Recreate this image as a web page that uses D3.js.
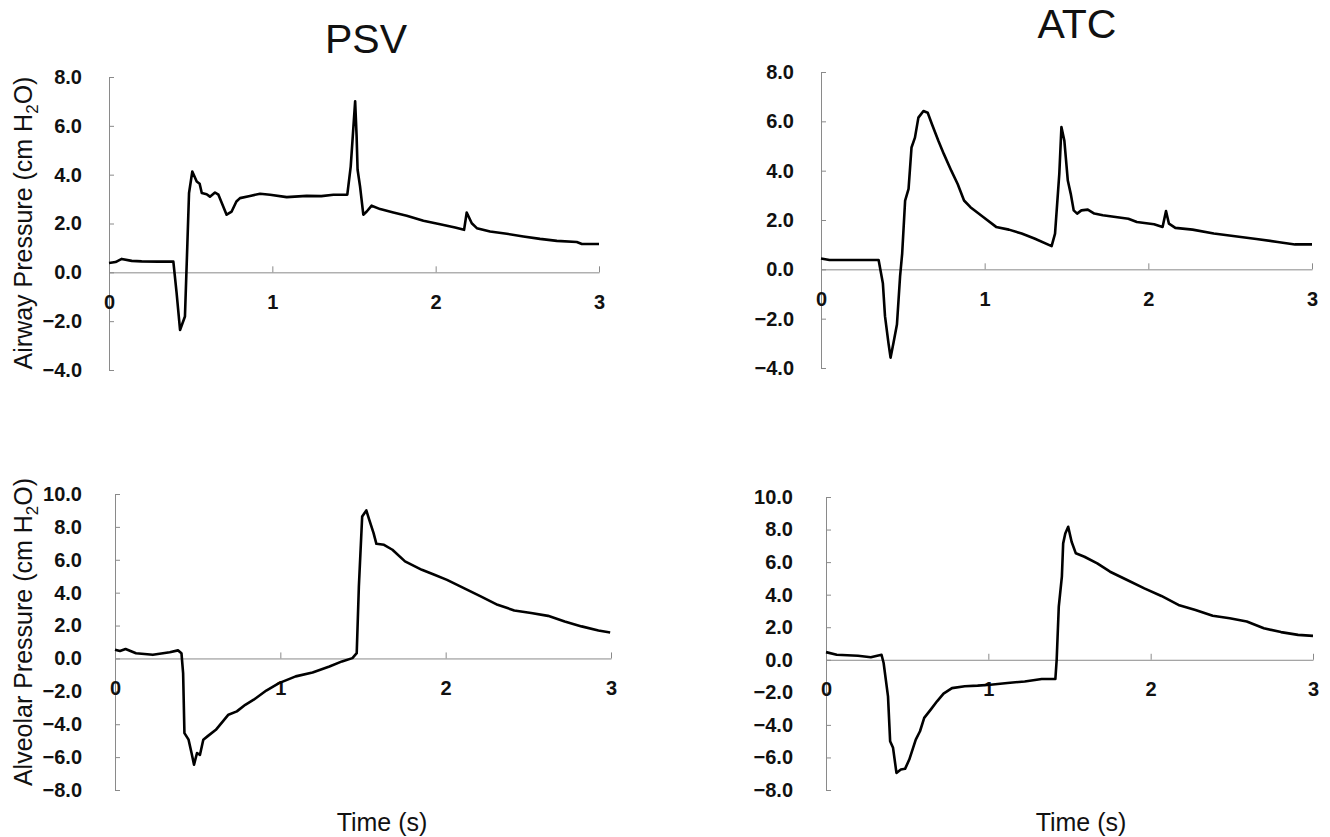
<!DOCTYPE html>
<html>
<head>
<meta charset="utf-8">
<script src="https://cdn.jsdelivr.net/npm/d3@7"></script>
<style>
  body { margin: 0; background: #fff; }
  svg { display: block; }
  .tick text { font-family: "Liberation Sans", Arial, sans-serif; font-weight: bold; font-size: 20px; fill: #111; }
  .axis path, .axis line { stroke: #8a8a8a; stroke-width: 1; }
  .title { font-family: "Liberation Sans", Arial, sans-serif; font-size: 41px; fill: #111; }
  .lab { font-family: "Liberation Sans", Arial, sans-serif; font-size: 25px; fill: #111; }
</style>
</head>
<body>
<div id="chart"></div>
<script>
// tick values
const timeTicks = [0, 1, 2, 3];
const airwayTicks = [-4, -2, 0, 2, 4, 6, 8];
const alveolarTicks = [-8, -6, -4, -2, 0, 2, 4, 6, 8, 10];

// PSV airway pressure (top left)
const psvAirwayT = [0, 0.04, 0.078, 0.139, 0.2, 0.3, 0.394, 0.414, 0.435, 0.465, 0.48, 0.49, 0.51, 0.537, 0.555, 0.568, 0.598, 0.618, 0.649, 0.67, 0.72, 0.751, 0.78, 0.802, 0.863, 0.925, 0.986, 1.088, 1.21, 1.3, 1.374, 1.459, 1.48, 1.507, 1.516, 1.522, 1.537, 1.557, 1.578, 1.608, 1.66, 1.741, 1.823, 1.925, 2.027, 2.119, 2.174, 2.19, 2.221, 2.252, 2.333, 2.435, 2.537, 2.639, 2.742, 2.864, 2.895, 3.0];
const psvAirwayP = [0.38, 0.42, 0.55, 0.47, 0.45, 0.44, 0.44, -0.85, -2.36, -1.81, 1.2, 3.25, 4.13, 3.72, 3.63, 3.25, 3.2, 3.1, 3.27, 3.18, 2.36, 2.49, 2.9, 3.04, 3.13, 3.22, 3.18, 3.08, 3.13, 3.12, 3.18, 3.18, 4.34, 7.0, 5.57, 4.2, 3.52, 2.36, 2.49, 2.73, 2.59, 2.45, 2.32, 2.11, 1.97, 1.84, 1.74, 2.45, 2.01, 1.81, 1.67, 1.58, 1.47, 1.37, 1.29, 1.24, 1.16, 1.16];

// ATC airway pressure (top right)
const atcAirwayT = [0, 0.052, 0.2, 0.352, 0.378, 0.391, 0.412, 0.425, 0.443, 0.464, 0.483, 0.496, 0.514, 0.535, 0.553, 0.574, 0.595, 0.626, 0.652, 0.678, 0.717, 0.751, 0.796, 0.835, 0.874, 0.913, 0.991, 1.07, 1.148, 1.226, 1.304, 1.409, 1.43, 1.456, 1.469, 1.487, 1.508, 1.526, 1.544, 1.565, 1.591, 1.63, 1.67, 1.722, 1.878, 1.93, 2.035, 2.087, 2.108, 2.126, 2.165, 2.27, 2.4, 2.53, 2.66, 2.79, 2.896, 3.0];
const atcAirwayP = [0.44, 0.38, 0.38, 0.38, -0.56, -1.9, -2.98, -3.58, -2.98, -2.24, -0.3, 0.64, 2.79, 3.26, 4.94, 5.34, 6.15, 6.42, 6.35, 5.88, 5.21, 4.67, 4.0, 3.46, 2.79, 2.52, 2.12, 1.72, 1.61, 1.45, 1.25, 0.94, 1.45, 3.87, 5.77, 5.21, 3.6, 3.06, 2.39, 2.26, 2.39, 2.42, 2.26, 2.19, 2.05, 1.92, 1.83, 1.72, 2.36, 1.85, 1.68, 1.61, 1.45, 1.34, 1.23, 1.11, 1.01, 1.01];

// PSV alveolar pressure (bottom left)
const psvAlvT = [0, 0.03, 0.064, 0.127, 0.229, 0.331, 0.381, 0.402, 0.412, 0.42, 0.445, 0.463, 0.478, 0.496, 0.514, 0.534, 0.559, 0.61, 0.686, 0.737, 0.788, 0.839, 0.915, 0.992, 1.093, 1.195, 1.297, 1.373, 1.436, 1.462, 1.475, 1.495, 1.52, 1.538, 1.564, 1.581, 1.627, 1.678, 1.754, 1.856, 1.932, 2.008, 2.11, 2.212, 2.314, 2.415, 2.517, 2.619, 2.72, 2.822, 2.924, 2.995];
const psvAlvP = [0.53, 0.45, 0.57, 0.32, 0.22, 0.38, 0.49, 0.32, -0.89, -4.54, -4.94, -5.75, -6.46, -5.75, -5.86, -4.94, -4.74, -4.34, -3.42, -3.22, -2.82, -2.51, -1.95, -1.5, -1.09, -0.85, -0.49, -0.18, 0.02, 0.32, 4.38, 8.63, 9.0, 8.43, 7.62, 6.97, 6.91, 6.61, 5.9, 5.39, 5.09, 4.78, 4.28, 3.77, 3.26, 2.92, 2.76, 2.59, 2.25, 1.95, 1.7, 1.58];

// ATC alveolar pressure (bottom right)
const atcAlvT = [0, 0.066, 0.197, 0.276, 0.342, 0.355, 0.382, 0.395, 0.413, 0.434, 0.461, 0.487, 0.513, 0.553, 0.579, 0.605, 0.645, 0.684, 0.724, 0.776, 0.855, 0.934, 1.013, 1.118, 1.224, 1.329, 1.413, 1.421, 1.434, 1.453, 1.461, 1.474, 1.492, 1.513, 1.539, 1.592, 1.671, 1.75, 1.855, 1.961, 2.066, 2.171, 2.276, 2.382, 2.487, 2.592, 2.697, 2.803, 2.908, 3.0];
const atcAlvP = [0.47, 0.31, 0.25, 0.16, 0.31, -0.2, -2.25, -5.0, -5.41, -6.95, -6.74, -6.7, -6.13, -4.9, -4.39, -3.57, -3.06, -2.55, -2.08, -1.74, -1.63, -1.59, -1.53, -1.43, -1.33, -1.18, -1.18, 0, 3.27, 5.11, 7.15, 7.76, 8.17, 7.25, 6.54, 6.33, 5.92, 5.41, 4.9, 4.39, 3.92, 3.37, 3.06, 2.7, 2.55, 2.35, 1.94, 1.7, 1.53, 1.47];

const W = 1330, H = 837;
const svg = d3.select("#chart").append("svg").attr("width", W).attr("height", H);

// panel layout in pixels
const panels = [
  {t: psvAirwayT, p: psvAirwayP, ticks: airwayTicks, left: 109, right: 599, top: 77, bottom: 370, pad: 27},
  {t: atcAirwayT, p: atcAirwayP, ticks: airwayTicks, left: 821, right: 1312, top: 72, bottom: 368, pad: 27},
  {t: psvAlvT, p: psvAlvP, ticks: alveolarTicks, left: 115, right: 611, top: 494, bottom: 790, pad: 33},
  {t: atcAlvT, p: atcAlvP, ticks: alveolarTicks, left: 826, right: 1313, top: 497, bottom: 790, pad: 33}
];

panels.forEach(pn => {
  const x = d3.scaleLinear().domain([0, 3]).range([pn.left, pn.right]);
  const y = d3.scaleLinear().domain(d3.extent(pn.ticks)).range([pn.bottom, pn.top]);

  svg.append("g").attr("class", "axis")
    .attr("transform", "translate(" + pn.left + ",0)")
    .call(d3.axisLeft(y).tickValues(pn.ticks).tickFormat(d3.format(".1f"))
      .tickSizeInner(-5).tickSizeOuter(0).tickPadding(pn.pad));

  svg.append("g").attr("class", "axis")
    .attr("transform", "translate(0," + y(0) + ")")
    .call(d3.axisBottom(x).tickValues(timeTicks).tickFormat(d3.format("d"))
      .tickSizeInner(-6).tickSizeOuter(0).tickPadding(22));

  const line = d3.line().x(d => x(d[0])).y(d => y(d[1]));
  svg.append("path")
    .datum(d3.zip(pn.t, pn.p))
    .attr("d", line)
    .attr("fill", "none")
    .attr("stroke", "#000")
    .attr("stroke-width", 2.6)
    .attr("stroke-linejoin", "round");
});

// titles
svg.append("text").attr("class", "title").attr("x", 366).attr("y", 53).attr("text-anchor", "middle").text("PSV");
svg.append("text").attr("class", "title").attr("x", 1077).attr("y", 38).attr("text-anchor", "middle").text("ATC");

// x axis labels
svg.append("text").attr("class", "lab").attr("x", 382).attr("y", 831).attr("text-anchor", "middle").text("Time (s)");
svg.append("text").attr("class", "lab").attr("x", 1081).attr("y", 831).attr("text-anchor", "middle").text("Time (s)");

// y axis labels with subscript
function yLabel(name, cy) {
  const t = svg.append("text").attr("class", "lab")
    .attr("transform", "translate(32," + cy + ") rotate(-90)")
    .attr("text-anchor", "middle");
  t.append("tspan").text(name + " (cm H");
  t.append("tspan").attr("dy", 6).attr("font-size", 17).text("2");
  t.append("tspan").attr("dy", -6).text("O)");
}
yLabel("Airway Pressure", 223);
yLabel("Alveolar Pressure", 632);
</script>
</body>
</html>
